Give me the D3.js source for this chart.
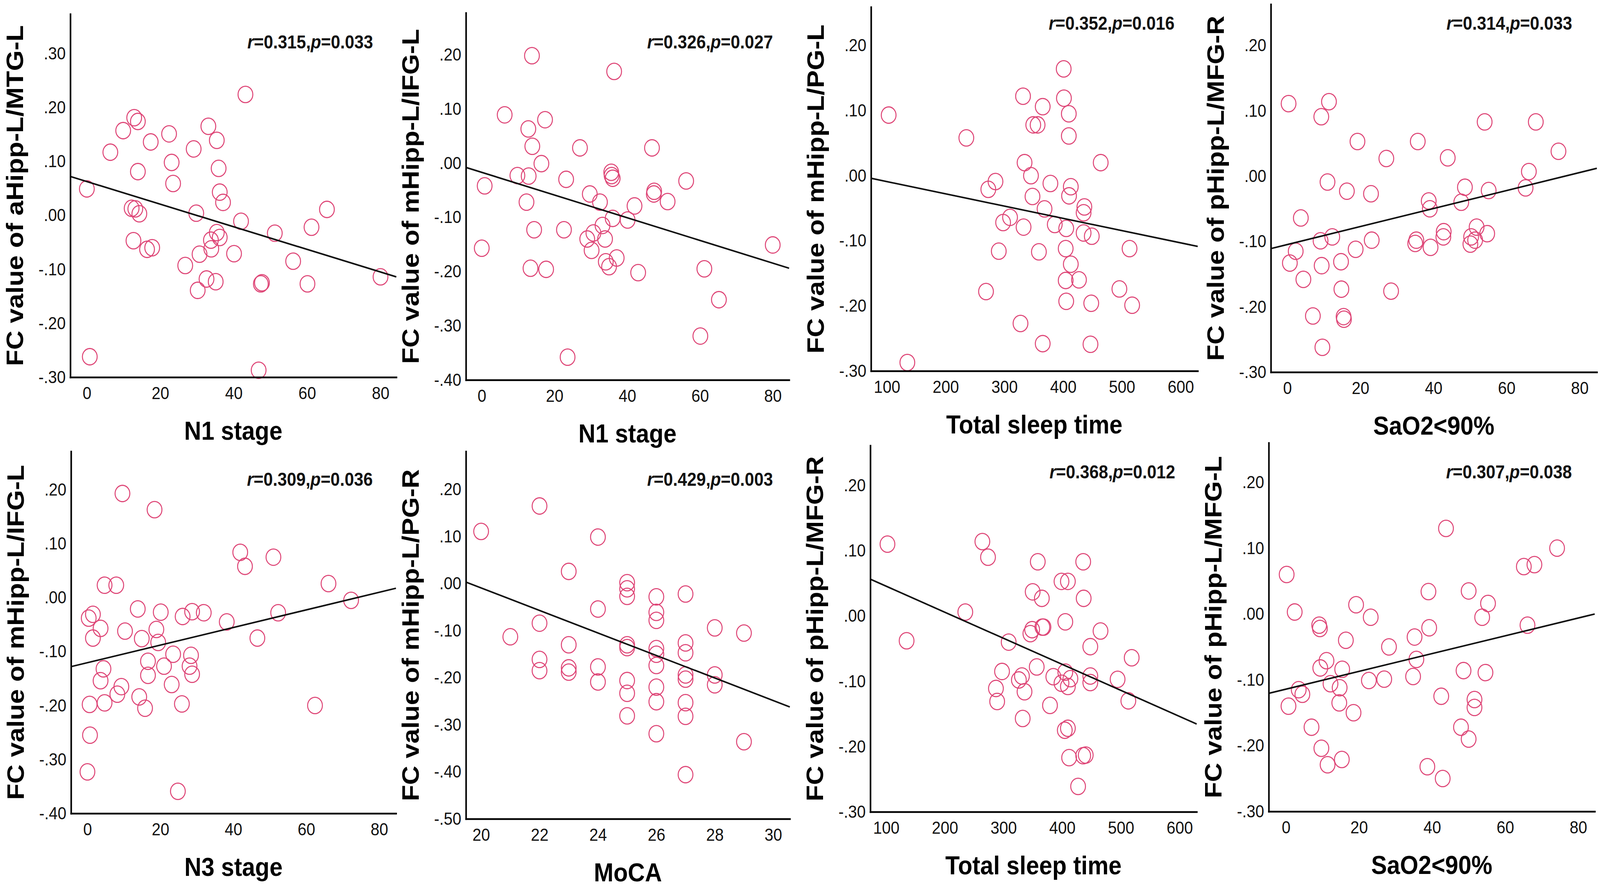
<!DOCTYPE html>
<html>
<head>
<meta charset="utf-8">
<script src="https://cdn.jsdelivr.net/npm/d3@7"></script>
<style>
  html, body { margin: 0; padding: 0; background: #fff; overflow: hidden; }
  svg { display: block; width: 100vw; height: 100vh; font-family: 'Liberation Sans', Arial, sans-serif; }
</style>
</head>
<body>
<div id="chart"></div>
<script>
// Data
const xTitles = ['N1 stage', 'N1 stage', 'Total sleep time', 'SaO2<90%',
  'N3 stage', 'MoCA', 'Total sleep time', 'SaO2<90%'];
const yTitles = ['FC value of aHipp-L/MTG-L', 'FC value of mHipp-L/IFG-L',
  'FC value of mHipp-L/PG-L', 'FC value of pHipp-L/MFG-R',
  'FC value of mHipp-L/IFG-L', 'FC value of mHipp-L/PG-R',
  'FC value of pHipp-L/MFG-R', 'FC value of pHipp-L/MFG-L'];
const rValues = ['0.315', '0.326', '0.352', '0.314', '0.309', '0.429', '0.368', '0.307'];
const pValues = ['0.033', '0.027', '0.016', '0.033', '0.036', '0.003', '0.012', '0.038'];

// fitted line: y = a + b * x
const fitIntercepts = [0.0626, -0.0171, 0.0097, -0.1047, -0.1206, 0.4695, 0.0855, -0.1142];
const fitSlopes = [-0.002095, -0.002093, -0.0001882, 0.001378, 0.001631, -0.02393, -0.000399, 0.001351];

const xTickSets = [
  [0, 20, 40, 60, 80], [0, 20, 40, 60, 80], [100, 200, 300, 400, 500, 600], [0, 20, 40, 60, 80],
  [0, 20, 40, 60, 80], [20, 22, 24, 26, 28, 30], [100, 200, 300, 400, 500, 600], [0, 20, 40, 60, 80],
];
const yTickSets = [
  [-0.3, -0.2, -0.1, 0, 0.1, 0.2, 0.3],
  [-0.4, -0.3, -0.2, -0.1, 0, 0.1, 0.2],
  [-0.3, -0.2, -0.1, 0, 0.1, 0.2],
  [-0.3, -0.2, -0.1, 0, 0.1, 0.2],
  [-0.4, -0.3, -0.2, -0.1, 0, 0.1, 0.2],
  [-0.5, -0.4, -0.3, -0.2, -0.1, 0, 0.1, 0.2],
  [-0.3, -0.2, -0.1, 0, 0.1, 0.2],
  [-0.3, -0.2, -0.1, 0, 0.1, 0.2],
];

const n1MtgPoints = [[43.2, 0.224], [12.9, 0.181], [13.9, 0.174], [9.9, 0.157], [33.1, 0.165], [17.4, 0.136],
  [22.4, 0.151], [35.4, 0.139], [6.4, 0.117], [29.1, 0.123], [23.1, 0.098], [35.9, 0.087], [13.9, 0.081],
  [23.5, 0.059], [0, 0.049], [36.2, 0.043], [37.1, 0.024], [12.2, 0.013], [13.2, 0.012], [14.3, 0.003],
  [29.8, 0.004], [42.0, -0.011], [65.4, 0.011], [61.2, -0.022], [51.2, -0.033], [35.4, -0.032],
  [36.2, -0.041], [33.8, -0.046], [33.9, -0.062], [12.7, -0.047], [16.4, -0.063], [17.8, -0.060],
  [30.7, -0.072], [40.1, -0.071], [26.8, -0.093], [56.2, -0.085], [32.6, -0.118], [35.1, -0.123],
  [30.2, -0.139], [47.4, -0.127], [47.7, -0.125], [60.1, -0.127], [80, -0.114], [0.8, -0.262], [46.8, -0.287]];

const n1IfgPoints = [[13.8, 0.198], [36.4, 0.169], [6.3, 0.089], [17.4, 0.080], [12.8, 0.063], [13.9, 0.031],
  [27.0, 0.028], [46.8, 0.028], [16.4, -0.001], [9.8, -0.023], [12.9, -0.024], [23.2, -0.030], [35.6, -0.017],
  [35.7, -0.023], [36.0, -0.028], [56.2, -0.033], [0.8, -0.042], [29.7, -0.057], [47.4, -0.052], [47.3, -0.057],
  [51.1, -0.071], [12.3, -0.072], [32.5, -0.072], [42.0, -0.079], [36.0, -0.102], [40.1, -0.105], [33.2, -0.115],
  [14.4, -0.123], [22.6, -0.123], [30.7, -0.129], [29.0, -0.140], [33.9, -0.140], [0, -0.157], [80, -0.151],
  [30.2, -0.161], [34.1, -0.182], [37.1, -0.175], [35.0, -0.191], [13.4, -0.194], [17.7, -0.196], [43.0, -0.202],
  [61.2, -0.195], [65.2, -0.252], [60.1, -0.319], [23.6, -0.358]];

const tstPgPoints = [[103, 0.093], [134.8, -0.287], [235.2, 0.058], [331.7, 0.122], [365.2, 0.106], [400.9, 0.164],
  [401.3, 0.119], [409.6, 0.095], [409.6, 0.061], [349.1, 0.078], [356.5, 0.078], [334.3, 0.020], [463.9, 0.020],
  [345.2, 0.000], [284.8, -0.009], [272.6, -0.021], [378.3, -0.012], [413, -0.017], [410, -0.031], [347.8, -0.032],
  [368.3, -0.051], [436.1, -0.048], [434.8, -0.057], [309.6, -0.064], [297.8, -0.072], [332.6, -0.079],
  [385.7, -0.075], [405.2, -0.081], [434.8, -0.088], [448.7, -0.093], [290.4, -0.116], [358.7, -0.117],
  [404.3, -0.112], [513, -0.112], [413, -0.136], [404.3, -0.161], [426.9, -0.160], [268.7, -0.178],
  [495.7, -0.174], [405.2, -0.193], [447.8, -0.196], [517.4, -0.199], [327.4, -0.227], [365.2, -0.258],
  [446.5, -0.259]];

const saoMfgRPoints = [[0.35, 0.111], [11.4, 0.114], [9.3, 0.091], [54.0, 0.083], [68.0, 0.083], [19.2, 0.053],
  [35.7, 0.053], [27.1, 0.027], [43.9, 0.028], [74.2, 0.038], [66.1, 0.007], [11.0, -0.009], [16.3, -0.023],
  [22.9, -0.027], [48.6, -0.017], [55.1, -0.022], [65.2, -0.018], [38.7, -0.038], [39.0, -0.050], [47.6, -0.040],
  [3.7, -0.064], [12.3, -0.093], [9.1, -0.099], [23.1, -0.098], [35.3, -0.098], [35.0, -0.103], [39.2, -0.109],
  [42.8, -0.085], [42.7, -0.093], [51.8, -0.078], [50.3, -0.093], [50.1, -0.104], [51.4, -0.098], [54.7, -0.088],
  [2.3, -0.115], [0.7, -0.133], [18.7, -0.112], [9.4, -0.137], [14.7, -0.131], [4.4, -0.158], [14.8, -0.173],
  [28.4, -0.176], [7.0, -0.214], [15.4, -0.215], [15.5, -0.219], [9.6, -0.262]];

const n3IfgPoints = [[9.6, 0.193], [18.4, 0.163], [41.9, 0.084], [43.2, 0.058], [51.0, 0.075], [4.7, 0.023],
  [7.9, 0.023], [66.1, 0.026], [72.3, -0.005], [13.8, -0.021], [20.1, -0.027], [0.35, -0.038], [1.5, -0.031],
  [26.1, -0.035], [28.7, -0.026], [31.9, -0.028], [38.2, -0.045], [52.3, -0.028], [3.6, -0.057], [10.3, -0.062],
  [18.9, -0.059], [1.5, -0.075], [14.9, -0.076], [19.4, -0.083], [46.6, -0.075], [23.5, -0.105], [28.4, -0.107],
  [16.6, -0.118], [21.0, -0.127], [28.0, -0.127], [28.7, -0.142], [4.4, -0.132], [16.6, -0.144], [3.6, -0.154],
  [23.1, -0.161], [9.3, -0.165], [8.2, -0.179], [14.2, -0.184], [0.6, -0.198], [4.7, -0.195], [15.8, -0.205],
  [25.9, -0.197], [62.4, -0.200], [0.7, -0.255], [0, -0.323], [24.8, -0.359]];

const mocaPgRPoints = [[20, 0.111], [21, -0.113],
  [22, 0.165], [22, -0.084], [22, -0.161], [22, -0.185],
  [23, 0.026], [23, -0.130], [23, -0.179], [23, -0.188],
  [24, 0.099], [24, -0.054], [24, -0.177], [24, -0.209],
  [25, 0.002], [25, -0.011], [25, -0.027], [25, -0.130], [25, -0.136], [25, -0.206], [25, -0.233], [25, -0.281],
  [26, -0.028], [26, -0.061], [26, -0.078], [26, -0.138], [26, -0.150], [26, -0.174], [26, -0.220], [26, -0.251],
  [26, -0.319],
  [27, -0.022], [27, -0.126], [27, -0.147], [27, -0.194], [27, -0.203], [27, -0.253], [27, -0.282], [27, -0.406],
  [28, -0.094], [28, -0.194], [28, -0.215],
  [29, -0.105], [29, -0.336]];

const tstMfgRPoints = [[102.2, 0.110], [134.8, -0.038], [263.9, 0.114], [273.5, 0.090], [234.8, 0.006],
  [358.3, 0.083], [435.7, 0.083], [398.7, 0.053], [409.6, 0.053], [349.6, 0.037], [365.2, 0.027], [436.5, 0.027],
  [405.2, -0.009], [348.7, -0.021], [366.1, -0.017], [368, -0.017], [345.7, -0.027], [465.2, -0.023],
  [308.7, -0.040], [447.8, -0.047], [518.3, -0.064], [356.5, -0.078], [297.4, -0.085], [405.2, -0.086],
  [384.8, -0.093], [413.9, -0.096], [326.1, -0.098], [331.3, -0.092], [398.7, -0.103], [409.6, -0.108],
  [447.8, -0.092], [447.8, -0.102], [494.3, -0.097], [287.0, -0.111], [335.7, -0.116], [289.1, -0.131],
  [512.6, -0.130], [379.1, -0.137], [332.6, -0.157], [404.3, -0.175], [409.6, -0.172], [411.7, -0.217],
  [435.7, -0.214], [440, -0.213], [427, -0.261]];

const saoMfgLPoints = [[0.2, 0.060], [2.4, 0.003], [43.8, 0.130], [74.2, 0.100], [65.1, 0.072], [68.0, 0.075],
  [39.0, 0.034], [50.0, 0.035], [55.3, 0.016], [19.2, 0.014], [23.2, -0.005], [53.7, -0.005], [9.1, -0.017],
  [9.3, -0.022], [66.1, -0.017], [39.2, -0.021], [35.2, -0.035], [16.4, -0.040], [28.2, -0.050], [35.7, -0.069],
  [11.1, -0.071], [9.4, -0.082], [15.4, -0.084], [48.6, -0.086], [54.6, -0.089], [34.8, -0.095], [22.7, -0.101],
  [26.9, -0.099], [12.2, -0.106], [14.7, -0.112], [3.5, -0.115], [4.5, -0.122], [42.5, -0.125], [51.6, -0.130],
  [51.6, -0.142], [0.7, -0.140], [14.6, -0.135], [18.5, -0.150], [7.0, -0.172], [47.9, -0.172], [50.0, -0.190],
  [9.7, -0.204], [11.4, -0.229], [15.3, -0.221], [38.7, -0.232], [42.9, -0.250]];

const panels = [n1MtgPoints, n1IfgPoints, tstPgPoints, saoMfgRPoints,
  n3IfgPoints, mocaPgRPoints, tstMfgRPoints, saoMfgLPoints];

// Layout: plot frame of each panel (pixels) and its scale domains
const frames = [
  { l: 200, t: 36, r: 1127, b: 966, ax: 1061, ay: 124, xd: [-4.5, 84.3], yd: [-0.30, 0.373] },
  { l: 1325, t: 33, r: 2244, b: 973, ax: 2198, ay: 124, xd: [-4.35, 84.5], yd: [-0.40, 0.277] },
  { l: 2477, t: 18, r: 3406, b: 950, ax: 3340, ay: 76, xd: [73, 629], yd: [-0.30, 0.259] },
  { l: 3614, t: 11, r: 4541, b: 953, ax: 4471, ay: 76, xd: [-4.5, 84.7], yd: [-0.30, 0.263] },
  { l: 202, t: 1156, r: 1126, b: 2083, ax: 1060, ay: 1244, xd: [-4.5, 84.6], yd: [-0.40, 0.271] },
  { l: 1325, t: 1156, r: 2246, b: 2097, ax: 2198, ay: 1244, xd: [19.48, 30.57], yd: [-0.50, 0.281] },
  { l: 2475, t: 1141, r: 3403, b: 2079, ax: 3342, ay: 1225, xd: [73, 629], yd: [-0.30, 0.261] },
  { l: 3608, t: 1134, r: 4535, b: 2078, ax: 4470, ay: 1225, xd: [-4.7, 84.5], yd: [-0.30, 0.26] },
];

const pointColor = '#de4576';
// SPSS style: ".20", "-.10"
const fcFormat = (v) => d3.format('.2f')(v).replace('\u2212', '-').replace(/^(-?)0\./, '$1.');

// the canvas is stretched to the whole window so it keeps the reference frame
const svg = d3
  .select('#chart')
  .append('svg')
  .attr('viewBox', [0, 0, 4550, 2274])
  .attr('preserveAspectRatio', 'none');

panels.forEach((pts, i) => {
  const f = frames[i];
  const xScale = d3.scaleLinear().domain(f.xd).range([f.l, f.r]);
  const yScale = d3.scaleLinear().domain(f.yd).range([f.b, f.t]);
  const g = svg.append('g');

  // scatter points
  g.append('g')
    .selectAll('circle')
    .data(pts)
    .join('circle')
    .attr('cx', (d) => xScale(d[0]))
    .attr('cy', (d) => yScale(d[1]))
    .attr('r', 21)
    .attr('fill', 'none')
    .attr('stroke', pointColor)
    .attr('stroke-width', 2.8);

  // fit line across the whole x range
  const line = d3.line().x((d) => xScale(d)).y((d) => yScale(fitIntercepts[i] + fitSlopes[i] * d));
  g.append('path')
    .attr('d', line(f.xd))
    .attr('fill', 'none')
    .attr('stroke', '#111')
    .attr('stroke-width', 4);

  // axes
  const xAxis = d3.axisBottom(xScale).tickValues(xTickSets[i]).tickSize(0).tickSizeOuter(0).tickPadding(24);
  const yAxis = d3.axisLeft(yScale).tickValues(yTickSets[i]).tickFormat(fcFormat)
    .tickSize(0).tickSizeOuter(0).tickPadding(13);

  [g.append('g').attr('transform', `translate(0,${f.b})`).call(xAxis),
    g.append('g').attr('transform', `translate(${f.l},0)`).call(yAxis)].forEach((ax) => {
    ax.select('.domain').attr('stroke', '#000').attr('stroke-width', 4.5).attr('stroke-linecap', 'square');
    ax.selectAll('text').attr('font-size', 45).attr('fill', '#111')
      .attr('font-family', "'Liberation Sans', Arial, sans-serif");
  });

  // axis names
  g.append('text')
    .attr('text-anchor', 'middle')
    .attr('x', (f.l + f.r) / 2)
    .attr('y', f.b + 160)
    .attr('font-size', 67)
    .attr('font-weight', 'bold')
    .text(xTitles[i]);
  g.append('text')
    .attr('text-anchor', 'middle')
    .attr('transform', `translate(${f.l - 134},${(f.t + f.b) / 2})rotate(-90)`)
    .attr('font-size', 68)
    .attr('font-weight', 'bold')
    .text(yTitles[i]);

  // r / p label
  const stat = g.append('text')
    .attr('text-anchor', 'end')
    .attr('x', f.ax)
    .attr('y', f.ay)
    .attr('font-size', 48)
    .attr('font-weight', 'bold')
    .attr('fill', '#111');
  stat.append('tspan').attr('font-style', 'italic').text('r');
  stat.append('tspan').text(`=${rValues[i]},`);
  stat.append('tspan').attr('font-style', 'italic').text('p');
  stat.append('tspan').text(`=${pValues[i]}`);
});
</script>
</body>
</html>
